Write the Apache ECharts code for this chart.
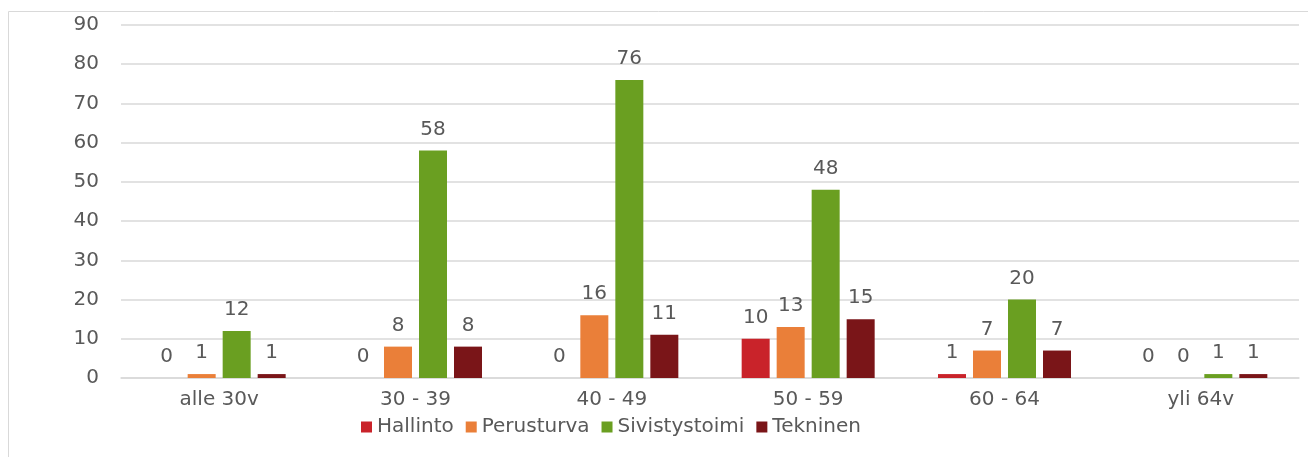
<!DOCTYPE html>
<html>
<head>
<meta charset="utf-8">
<script src="https://cdn.jsdelivr.net/npm/echarts@6/dist/echarts.min.js"></script>
<style>
  html, body { margin: 0; padding: 0; background: #fff; }
  #chart { width: 1308px; height: 457px; }
</style>
</head>
<body>
<div id="chart"></div>
<script>
// ikäryhmät
var categories = ['alle 30v', '30 - 39', '40 - 49', '50 - 59', '60 - 64', 'yli 64v'];
var hallinto = [0, 0, 0, 10, 1, 0];
var perusturva = [1, 8, 16, 13, 7, 0];
var sivistystoimi = [12, 58, 76, 48, 20, 1];
var tekninen = [1, 8, 11, 15, 7, 1];
var yTicks = [0, 90, 10]; // min, max, interval

var font = 'DejaVu Sans';
var textColor = '#595959';

function bar(name, data, color) {
    return {
        name: name,
        type: 'bar',
        data: data,
        barWidth: 28,
        barGap: '25%',
        itemStyle: { color: color },
        label: {
            show: true,
            position: 'top',
            distance: 11,
            fontFamily: font,
            fontSize: 20,
            color: textColor
        }
    };
}

var myChart = echarts.init(document.getElementById('chart'));
var option = {
    animation: false,
    graphic: [{
        type: 'rect',
        shape: { x: 8.5, y: 11.5, width: 1400, height: 500 },
        style: { fill: 'none', stroke: '#d9d9d9', lineWidth: 1 },
        silent: true
    }],
    grid: { left: 121, right: 9, top: 25, bottom: 79 },
    legend: {
        left: 356,
        top: 412,
        itemWidth: 11,
        itemHeight: 11,
        itemGap: 12,
        icon: 'rect',
        textStyle: { fontFamily: font, fontSize: 20, color: textColor },
        data: ['Hallinto', 'Perusturva', 'Sivistystoimi', 'Tekninen']
    },
    xAxis: {
        type: 'category',
        data: categories,
        axisLine: { lineStyle: { color: '#d9d9d9', width: 1.5 } },
        axisTick: { show: false },
        axisLabel: { fontFamily: font, fontSize: 20, color: textColor, margin: 12 }
    },
    yAxis: {
        type: 'value',
        min: yTicks[0],
        max: yTicks[1],
        interval: yTicks[2],
        axisLine: { show: false },
        axisTick: { show: false },
        splitLine: { lineStyle: { color: '#d9d9d9', width: 1.5 } },
        axisLabel: { fontFamily: font, fontSize: 20, color: textColor, margin: 22 }
    },
    series: [
        bar('Hallinto', hallinto, '#c9232a'),
        bar('Perusturva', perusturva, '#ea7f39'),
        bar('Sivistystoimi', sivistystoimi, '#6a9f21'),
        bar('Tekninen', tekninen, '#7a1518')
    ]
};
myChart.setOption(option, true);
</script>
</body>
</html>
